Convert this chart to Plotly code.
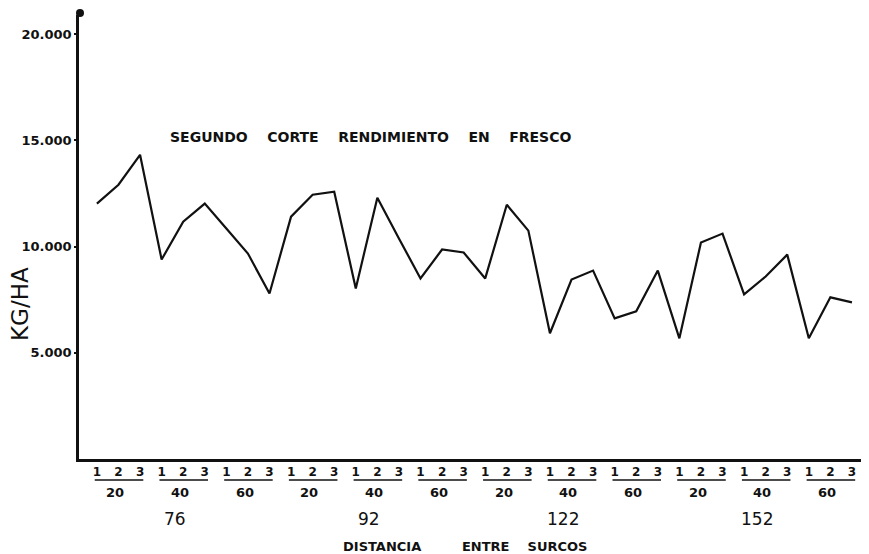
import plotly.graph_objects as go

# ---- data ----
row_distances = ["76", "92", "122", "152"]
plant_spacings = ["20", "40", "60"]
reps = ["1", "2", "3"]
yield_kg_ha = [
    12020, 12910, 14320,   9390, 11170, 12020,  10850, 9670, 7790,
    11410, 12440, 12580,   8030, 12300, 10380,   8500, 9860, 9720,
    8500, 11970, 10750,    5920, 8450, 8870,     6620, 6950, 8870,
    5680, 10190, 10610,    7750, 8590, 9620,     5680, 7610, 7370,
]
y_tick_vals = [5000, 10000, 15000, 20000]
y_tick_text = ["5.000", "10.000", "15.000", "20.000"]
NB = "\u00a0"
title_words = ["SEGUNDO", "CORTE", "RENDIMIENTO", "EN", "FRESCO"]
x_title_words = ["DISTANCIA", "ENTRE", "SURCOS"]
y_title_text = "KG/HA"

# ---- layout geometry (reference pixels; the page body has an 8px margin) ----
OFF = 8
PL, PT, PR, PB = 79, 15, 869, 459          # plot area in window pixels
W, H = 869 - OFF, 554 - OFF
L, T = PL - OFF, PT - OFF
R, B = W - (PR - OFF), H - (PB - OFF)
PW, PH = PR - PL, PB - PT


def px_to_paper_x(px):
    return (px - PL) / PW


def py_to_paper_y(py):
    return (PB - py) / PH


n = len(yield_kg_ha)
x_idx = list(range(n))
tick_text = [reps[i % 3] for i in x_idx]

FONT = "DejaVu Sans"
BLACK = "#111111"

fig = go.Figure()
fig.add_trace(go.Scatter(
    x=x_idx, y=yield_kg_ha, mode="lines",
    line=dict(color=BLACK, width=2.2), hoverinfo="skip", showlegend=False,
))

shapes = []
annotations = []


def ann(text, x, y, size, bold=False, xref="paper", angle=0):
    annotations.append(dict(text=text, xref=xref, yref="paper", x=x, y=y,
                            xanchor="center", yanchor="middle", showarrow=False,
                            textangle=angle,
                            font=dict(family=FONT, size=size, color=BLACK,
                                      weight="bold" if bold else "normal")))


# underlines + plant spacing labels
for g in range(len(row_distances) * len(plant_spacings)):
    i0 = g * 3
    shapes.append(dict(type="line", xref="x", yref="paper",
                       x0=i0 - 0.1, x1=i0 + 2.15,
                       y0=py_to_paper_y(480), y1=py_to_paper_y(480),
                       line=dict(color=BLACK, width=1.6)))
    ann(plant_spacings[g % 3], i0 + 0.85, py_to_paper_y(492), 13, True, xref="x")

# row distance labels
for k, rd in enumerate(row_distances):
    ann(rd, k * 9 + 3.6, py_to_paper_y(519), 17, xref="x")

ann((NB * 9).join([x_title_words[0], (NB * 4).join(x_title_words[1:])]),
    px_to_paper_x(465), py_to_paper_y(546), 13, True)
ann((NB * 4).join(title_words), px_to_paper_x(370), py_to_paper_y(137), 14, True)
ann(y_title_text, px_to_paper_x(20), py_to_paper_y(304), 23, angle=-90)

# dot at top of the y axis
r = 4
shapes.append(dict(type="circle", xref="paper", yref="paper",
                   x0=px_to_paper_x(80 - r), x1=px_to_paper_x(80 + r),
                   y0=py_to_paper_y(13 + r), y1=py_to_paper_y(13 - r),
                   fillcolor=BLACK, line=dict(color=BLACK, width=0)))

fig.update_layout(
    width=W, height=H, autosize=False,
    margin=dict(l=L, r=R, t=T, b=B, pad=0),
    paper_bgcolor="white", plot_bgcolor="white",
    shapes=shapes, annotations=annotations,
    xaxis=dict(range=[-0.83, 35.79], tickvals=x_idx, ticktext=tick_text,
               showgrid=False, zeroline=False, showline=True,
               linecolor=BLACK, linewidth=3, ticks="",
               ticklabelstandoff=0,
               tickfont=dict(family=FONT, size=12, color=BLACK, weight="bold")),
    yaxis=dict(range=[0, 20900], tickvals=y_tick_vals, ticktext=y_tick_text,
               showgrid=False, zeroline=False, showline=True,
               linecolor=BLACK, linewidth=2.5, ticks="outside", ticklen=2,
               tickcolor=BLACK, tickwidth=2,
               tickfont=dict(family=FONT, size=13, color=BLACK, weight="bold")),
)

fig.write_html("out.html")
